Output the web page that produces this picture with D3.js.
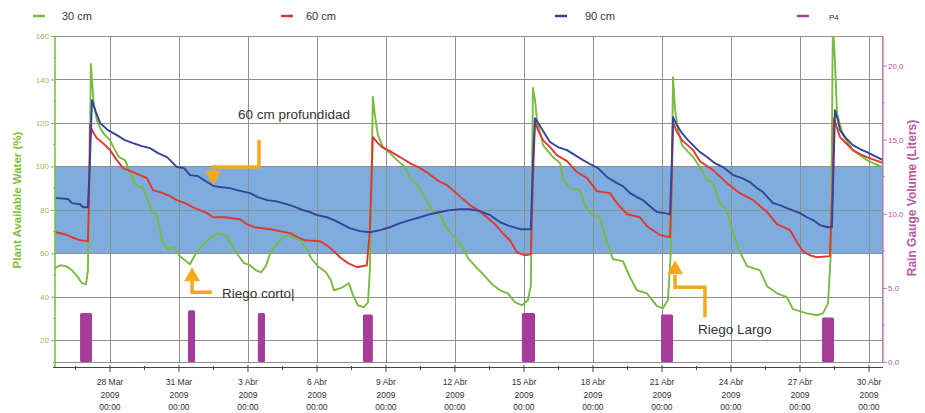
<!DOCTYPE html>
<html><head><meta charset="utf-8">
<script src="https://cdn.jsdelivr.net/npm/d3@7"></script>
<style>
body{margin:0;background:#fff;}
svg{display:block;font-family:"Liberation Sans",Arial,sans-serif;}
</style></head><body>
<svg id="chart" width="925" height="413"></svg>
<script>
// Times are day numbers counted from 1 Mar 2009 00:00 (27 = 28 Mar 00:00).
const tickDays   = [27, 30, 33, 36, 39, 42, 45, 48, 51, 54, 57, 60];
const tickLabels = ["28 Mar","31 Mar","3 Abr","6 Abr","9 Abr","12 Abr","15 Abr","18 Abr","21 Abr","24 Abr","27 Abr","30 Abr"];
const seriesNames = ["30 cm", "60 cm", "90 cm", "P4"];

// Plant available water at 30 cm (%)
const t30 = [24.61,24.83,25.09,25.35,25.57,25.78,25.96,26.04,26.13,26.17,26.22,26.30,26.43,26.57,26.78,27.0,27.22,27.39,27.65,27.87,28.13,28.43,28.65,28.83,29.04,29.26,29.52,29.78,30.04,30.26,30.48,30.74,31.0,31.35,31.70,32.04,32.30,32.57,32.83,33.09,33.35,33.57,33.78,33.96,34.22,34.57,34.91,35.26,35.52,35.74,36.04,36.39,36.61,36.74,37.04,37.39,37.57,37.78,38.04,38.22,38.30,38.39,38.43,38.52,38.65,38.87,39.17,39.48,39.83,40.04,40.39,40.70,41.0,41.35,41.61,42.0,42.30,42.57,42.96,43.30,43.61,43.96,44.30,44.61,44.91,45.17,45.30,45.39,45.48,45.57,45.83,46.26,46.57,46.70,47.0,47.43,47.65,47.87,48.30,48.61,48.87,49.30,49.61,49.91,50.35,50.78,51.04,51.26,51.39,51.48,51.57,51.70,51.87,52.35,52.65,52.96,53.22,53.52,53.83,54.09,54.39,54.70,55.26,55.57,56.0,56.43,56.70,57.30,57.74,58.0,58.22,58.35,58.43,58.52,58.61,58.87,59.30,59.61,59.91,60.26,60.61];
const v30 = [53.2,54.5,54.1,52.2,49.5,46.3,45.8,52.2,107.5,147.1,139.7,128.2,121.3,117.6,114.4,112.1,107.5,104.3,102.9,97.4,91.4,90.0,84.5,79.4,77.6,66.0,61.5,62.8,58.7,56.8,55.0,60.1,63.3,67.0,69.3,68.4,63.7,59.1,55.5,54.5,52.2,51.3,54.1,60.1,63.7,67.9,67.9,66.0,62.8,57.8,54.1,51.3,47.6,43.0,44.0,46.2,40.7,36.1,35.2,37.5,52.2,107.5,131.9,123.6,114.4,108.9,106.1,102.9,99.7,94.6,91.4,85.4,79.9,77.6,72.0,67.0,63.7,57.8,53.2,49.5,45.8,43.0,41.6,37.5,36.1,38.4,45.3,136.1,130.5,121.3,109.8,104.3,101.5,93.7,90.0,89.1,82.2,78.5,76.6,64.7,57.3,56.4,49.0,43.0,41.6,35.7,34.7,38.4,61.5,141.1,125.9,116.7,109.8,104.3,99.7,93.7,92.3,83.1,79.9,69.3,60.5,54.1,52.2,44.9,41.6,39.8,34.3,32.4,31.5,32.4,37.0,61.5,165.0,148.9,124.5,114.4,107.5,105.2,102.9,101.1,99.7];

// Plant available water at 60 cm (%)
const t60 = [24.61,25.04,25.35,25.70,26.04,26.09,26.13,26.26,26.43,26.70,27.0,27.30,27.57,28.0,28.30,28.61,28.87,29.30,29.61,29.91,30.26,30.61,30.91,31.22,31.48,32.0,32.65,32.96,33.30,33.96,34.39,34.83,35.17,35.48,36.13,36.48,36.78,37.0,37.35,37.74,38.17,38.30,38.43,38.61,38.83,39.17,39.61,40.04,40.48,40.83,41.22,41.65,42.0,42.30,42.65,43.0,43.39,43.74,44.04,44.39,44.70,45.04,45.30,45.39,45.48,45.61,45.83,46.13,46.43,46.87,47.30,47.74,48.17,48.74,49.04,49.48,50.04,50.35,50.91,51.35,51.43,51.48,51.65,51.87,52.35,52.65,53.22,53.83,54.39,54.96,55.57,56.0,56.57,56.87,57.13,57.43,57.74,58.30,58.39,58.48,58.61,58.74,59.04,59.30,59.61,59.91,60.26,60.61];
const v60 = [69.7,68.8,67.4,66.0,65.6,84.5,119.0,115.8,113.0,110.7,107.5,102.9,99.2,97.4,96.0,94.6,89.1,87.7,86.3,84.5,83.1,81.2,79.9,78.5,76.6,76.6,75.7,73.4,72.0,71.1,70.2,69.3,67.4,66.0,65.6,63.3,60.5,58.2,55.5,53.6,54.5,70.7,113.5,111.2,108.9,107.0,104.3,101.5,99.2,96.9,93.7,91.4,88.2,85.4,82.2,79.9,76.6,73.4,69.7,66.0,60.5,59.1,59.6,93.7,120.9,116.7,112.1,108.9,105.2,102.4,97.4,94.6,88.6,87.7,83.1,78.0,76.6,72.5,68.4,67.4,93.7,120.4,115.8,112.1,107.5,102.4,98.3,92.3,87.7,84.5,79.0,73.4,70.7,65.1,61.0,59.1,58.2,58.7,84.5,122.2,117.6,113.5,110.3,107.5,105.7,104.3,102.9,101.5];

// Plant available water at 90 cm (%)
const t90 = [24.61,25.17,25.35,25.70,25.83,26.04,26.13,26.22,26.39,26.57,26.91,27.30,27.65,28.0,28.39,28.74,29.09,29.48,29.70,29.91,30.22,30.48,30.83,31.22,31.52,31.78,32.22,32.52,33.09,33.43,33.83,34.17,34.52,34.96,35.39,35.70,36.0,36.43,36.74,37.0,37.43,37.87,38.30,38.74,39.17,39.61,40.04,40.48,40.91,41.35,41.78,42.22,42.65,43.09,43.52,43.96,44.39,44.83,45.30,45.39,45.48,45.70,45.91,46.13,46.48,46.87,47.22,47.57,47.87,48.22,48.61,49.04,49.30,49.61,49.91,50.17,50.48,50.78,51.13,51.35,51.43,51.48,51.65,51.87,52.13,52.35,52.65,52.96,53.30,53.65,54.09,54.48,54.83,55.13,55.39,55.83,56.13,56.43,57.0,57.30,57.57,57.87,58.22,58.39,58.48,58.52,58.65,58.74,59.0,59.30,59.61,59.91,60.26,60.61];
const v90 = [85.5,85.0,83.1,82.6,81.2,81.2,102.9,130.5,125.0,120.0,116.7,114.4,112.1,110.7,109.3,108.4,106.1,104.3,102.0,99.7,99.2,96.0,95.5,92.8,90.9,90.5,90.0,89.1,87.7,85.9,84.5,84.0,83.1,81.7,79.9,79.0,77.6,76.6,75.3,73.9,71.6,70.2,69.7,70.7,72.0,73.9,75.3,76.6,78.0,79.0,79.9,80.3,80.3,79.4,77.6,74.3,72.5,71.1,71.1,102.9,122.2,118.6,114.9,111.2,108.9,107.5,105.2,102.9,101.1,99.2,95.1,92.3,90.9,87.7,85.9,84.5,81.7,79.0,78.5,78.0,102.9,122.7,119.0,115.3,112.1,109.8,106.6,104.3,101.5,99.7,96.0,94.6,92.8,90.0,88.2,83.1,82.2,80.8,78.5,76.6,75.3,73.0,72.0,72.0,107.5,125.9,121.3,116.7,113.0,109.8,108.0,106.6,104.7,102.9];

// Rain gauge P4: irrigation events (start day, end day, litres)
const rainStart = [25.70, 30.39, 33.43, 38.00, 44.91, 50.96, 57.96];
const rainEnd   = [26.22, 30.70, 33.74, 38.43, 45.48, 51.48, 58.48];
const rainVol   = [3.3, 3.5, 3.3, 3.2, 3.3, 3.2, 3.0];

const leftTicks  = [20, 40, 60, 80, 100, 120, 140, 160];
const rightTicks = [0, 5, 10, 15, 20];

const colors = {g: "#79bb40", r: "#e2372f", b: "#33449a", p: "#a63c99",
                band: "#7eacdc", grid: "#8e8e8e", orange: "#f5a81e"};

const toDate = d => new Date(Date.UTC(2009, 2, 1) + d * 864e5);

const svg = d3.select("#chart");
const L = 55, R = 883, T = 36, B = 362;

const x = d3.scaleUtc().domain([toDate(24.61), toDate(60.61)]).range([L, R]);
const y = d3.scaleLinear().domain([10, 160]).range([B, T]);
const yR = d3.scaleLinear().domain([0, 22]).range([B, T]);

svg.append("defs").append("clipPath").attr("id", "plot")
  .append("rect").attr("x", L).attr("y", T).attr("width", R - L).attr("height", B - T);

// optimal water band 60-100 %
svg.append("rect").attr("x", L).attr("width", R - L)
  .attr("y", y(100)).attr("height", y(60) - y(100)).attr("fill", colors.band);

// grid
const grid = svg.append("g").attr("stroke", colors.grid).attr("stroke-width", 1);
grid.selectAll("line.h").data(leftTicks).join("line")
  .attr("x1", L).attr("x2", R)
  .attr("y1", d => Math.round(y(d)) + 0.5).attr("y2", d => Math.round(y(d)) + 0.5);
grid.selectAll("line.v").data(tickDays).join("line")
  .attr("y1", T).attr("y2", B)
  .attr("x1", d => Math.round(x(toDate(d))) + 0.5).attr("x2", d => Math.round(x(toDate(d))) + 0.5);
grid.append("line").attr("x1", L).attr("x2", R).attr("y1", B + 0.5).attr("y2", B + 0.5);
grid.append("line").attr("x1", R - 0.5).attr("x2", R - 0.5).attr("y1", T).attr("y2", B);

// rain bars
svg.append("g").selectAll("rect").data(rainVol).join("rect")
  .attr("x", (v, i) => x(toDate(rainStart[i])))
  .attr("width", (v, i) => x(toDate(rainEnd[i])) - x(toDate(rainStart[i])))
  .attr("y", v => yR(v)).attr("height", v => yR(0) - yR(v))
  .attr("rx", 1.5).attr("fill", colors.p);

// soil moisture lines
const line = d3.line().x(d => x(toDate(d[0]))).y(d => y(d[1]));
const series = [[t30, v30, colors.g], [t60, v60, colors.r], [t90, v90, colors.b]];
const lines = svg.append("g").attr("clip-path", "url(#plot)");
series.forEach(([t, v, c]) => {
  lines.append("path").datum(t.map((d, i) => [d, v[i]]))
    .attr("d", line).attr("fill", "none").attr("stroke", c)
    .attr("stroke-width", 1.9).attr("stroke-linejoin", "round");
});

// left axis
const la = svg.append("g").attr("transform", `translate(${L},0)`);
la.call(d3.axisLeft(y).tickValues(leftTicks).tickSize(4).tickPadding(2));
la.select(".domain").attr("stroke", colors.g).attr("stroke-width", 1.5)
  .attr("d", `M0,${T}V${B + 5}`);
la.selectAll(".tick line").attr("stroke", colors.g);
la.selectAll(".tick text").attr("fill", "#8cc152").style("font-size", "8px");
la.selectAll("line.minor").data(d3.range(10, 160, 20)).join("line").attr("class", "minor")
  .attr("x1", 0).attr("x2", -2).attr("y1", d => y(d)).attr("y2", d => y(d)).attr("stroke", colors.g);

svg.append("text").attr("transform", `translate(21,200) rotate(-90)`)
  .attr("text-anchor", "middle").attr("fill", "#7cbf3a")
  .style("font-size", "11.5px").style("font-weight", "bold")
  .text("Plant Available Water (%)");

// right axis
const ra = svg.append("g").attr("transform", `translate(${R},0)`);
ra.call(d3.axisRight(yR).tickValues(rightTicks).tickSize(4).tickPadding(1)
  .tickFormat(d => d3.format(".1f")(d).replace(".", ",")));
ra.select(".domain").attr("stroke", "#c27ab8").attr("stroke-width", 1.2)
  .attr("d", `M0,${T}V${B}`);
ra.selectAll(".tick line").attr("stroke", "#c27ab8");
ra.selectAll(".tick text").attr("fill", "#c0509f").style("font-size", "8px");
ra.selectAll("line.minor").data([2.5, 7.5, 12.5, 17.5]).join("line").attr("class", "minor")
  .attr("x1", 0).attr("x2", 2).attr("y1", d => yR(d)).attr("y2", d => yR(d)).attr("stroke", "#c27ab8");

svg.append("text").attr("transform", `translate(916,198) rotate(-90)`)
  .attr("text-anchor", "middle").attr("fill", "#b75aa6")
  .style("font-size", "12px").style("font-weight", "bold")
  .text("Rain Gauge Volume (Liters)");

// bottom axis
const AX = B + 5;
const xa = svg.append("g");
xa.append("line").attr("x1", L - 2).attr("x2", R).attr("y1", AX + 0.5).attr("y2", AX + 0.5)
  .attr("stroke", "#444").attr("stroke-width", 1.2);
const minorDays = d3.range(24.0, 61, 1.5).filter(d => d > 24.61 && d < 60.61 && !tickDays.includes(d));
xa.selectAll("line.mi").data(minorDays).join("line").attr("class", "mi")
  .attr("x1", d => x(toDate(d))).attr("x2", d => x(toDate(d)))
  .attr("y1", AX - 1).attr("y2", AX + 3).attr("stroke", "#444");
xa.selectAll("line.ma").data(tickDays).join("line").attr("class", "ma")
  .attr("x1", d => x(toDate(d))).attr("x2", d => x(toDate(d)))
  .attr("y1", AX - 2).attr("y2", AX + 5).attr("stroke", "#444");
const lab = xa.selectAll("text").data(tickDays).join("text")
  .attr("x", d => x(toDate(d))).attr("text-anchor", "middle")
  .attr("fill", "#333").style("font-size", "8.5px");
lab.append("tspan").attr("x", d => x(toDate(d))).attr("y", 385).text((d, i) => tickLabels[i]);
lab.append("tspan").attr("x", d => x(toDate(d))).attr("y", 398).text(d => d3.utcFormat("%Y")(toDate(d)));
lab.append("tspan").attr("x", d => x(toDate(d))).attr("y", 410).text(d => d3.utcFormat("%H:%M")(toDate(d)));

// legend
const legX = [[33, 62], [281, 306], [555, 585], [797, 829]];
const legC = [colors.g, colors.r, colors.b, colors.p];
const leg = svg.append("g");
seriesNames.forEach((n, i) => {
  leg.append("line").attr("x1", legX[i][0]).attr("x2", legX[i][0] + 12)
    .attr("y1", 16).attr("y2", 16).attr("stroke", legC[i]).attr("stroke-width", 2.5);
  leg.append("text").attr("x", legX[i][1]).attr("y", 20).attr("fill", "#333")
    .style("font-size", i === 3 ? "8px" : "11px").text(n);
});

// annotations (anchored in data coordinates)
const ann = svg.append("g").attr("stroke", colors.orange).attr("stroke-width", 3.5)
  .attr("fill", "none").attr("stroke-linejoin", "miter");
const P = (d, v) => [x(toDate(d)), y(v)];
function arrow(pts, tip, dir) {
  ann.append("path").attr("d", d3.line()(pts.map(p => P(p[0], p[1]))));
  const [tx, ty] = P(tip[0], tip[1]);
  const s = dir === "down" ? -1 : 1;
  svg.append("path").attr("fill", colors.orange)
    .attr("d", `M${tx},${ty}L${tx - 8},${ty + s * 14}L${tx + 8},${ty + s * 14}Z`);
}
arrow([[33.48, 112.1], [33.48, 99.7], [31.48, 99.7], [31.48, 95.0]], [31.48, 91.4], "down");
arrow([[31.43, 42.1], [30.57, 42.1], [30.57, 48.0]], [30.57, 53.6], "up");
arrow([[52.87, 30.6], [52.87, 44.4], [51.57, 44.4], [51.57, 50.0]], [51.57, 56.8], "up");

const notes = [["60 cm profundidad", 32.57, 122.0], ["Riego corto|", 31.87, 39.3], ["Riego Largo", 52.57, 22.8]];
svg.append("g").selectAll("text").data(notes).join("text")
  .attr("x", d => x(toDate(d[1]))).attr("y", d => y(d[2]))
  .attr("fill", "#333").style("font-size", "13.5px").text(d => d[0]);
</script>
</body></html>
